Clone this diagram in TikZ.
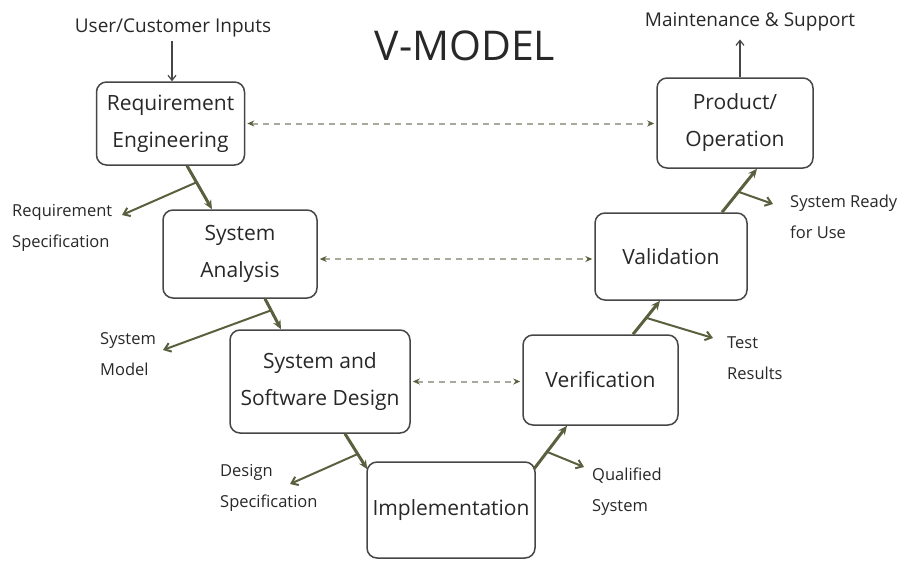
\documentclass[tikz,border=0pt]{standalone}
\usepackage{fontspec}
\setmainfont{Open Sans}
\usetikzlibrary{arrows.meta,calc}
\definecolor{stemc}{RGB}{88,96,62}
\definecolor{boxline}{RGB}{70,70,70}
\definecolor{dashc}{RGB}{165,170,155}
\definecolor{txtc}{RGB}{40,40,40}
\begin{document}
\begin{tikzpicture}[x=1pt,y=-1pt,
  box/.style={draw=boxline,line width=1.5pt,rounded corners=10pt,fill=white,align=center,
    font=\fontsize{21}{37}\selectfont,text=txtc,inner sep=0pt},
  lbl/.style={anchor=west,align=left,font=\fontsize{16.5}{31}\selectfont,text=txtc,inner sep=0pt},
  toplbl/.style={font=\fontsize{19}{22}\selectfont,text=txtc,inner sep=0pt},
  stemarrow/.style={draw=stemc,line width=3pt,-{Stealth[length=9pt,width=8pt]}},
  brancharrow/.style={draw=stemc,line width=2pt,-{Straight Barb[length=6pt,width=9pt]}},
  dasharrow/.style={draw=dashc,line width=2pt,dash pattern=on 6pt off 5pt,
    {Stealth[length=7pt,width=6pt,color=stemc]}-{Stealth[length=7pt,width=6pt,color=stemc]}},
  thinarrow/.style={draw=boxline,line width=1.2pt,-{Straight Barb[length=5pt,width=8pt]}}
]
\useasboundingbox (0,0) rectangle (904,560);

% title
\node[font=\fontsize{41}{43}\selectfont,text=txtc] (title) at (465,46) {V-MODEL};

% boxes
\node[box,minimum width=148pt,minimum height=83pt] (RE) at (170.5,123.5) {Requirement\\Engineering};
\node[box,minimum width=156pt,minimum height=90pt] (PO) at (735,123) {Product/\\Operation};
\node[box,minimum width=154pt,minimum height=88pt] (SA) at (240,254) {System\\Analysis};
\node[box,minimum width=152pt,minimum height=87pt] (VAL) at (671,256.5) {Validation};
\node[box,minimum width=180pt,minimum height=103pt] (SSD) at (320,381.5) {System and\\Software Design};
\node[box,minimum width=155pt,minimum height=90pt] (VER) at (600.5,380) {Verification};
\node[box,minimum width=168pt,minimum height=96pt] (IMP) at (451,510) {Implementation};

% top labels
\node[toplbl] (UCI) at (173,28) {User/Customer Inputs};
\node[toplbl] (MS) at (750,22) {Maintenance \& Support};
\draw[thinarrow] ([xshift=-1pt,yshift=-4pt]UCI.south) -- ([xshift=-1pt]UCI.south |- RE.north);
\draw[thinarrow] ([xshift=5pt]PO.north) -- ([xshift=5pt,yshift=-8pt]PO.north |- MS.south);

% side labels
\node[lbl] (LRS) at (12,228) {Requirement\\Specification};
\node[lbl] (LSM) at (100,354) {System\\Model};
\node[lbl] (LDS) at (220,488) {Design\\Specification};
\node[lbl] (LQS) at (592,492) {Qualified\\System};
\node[lbl] (LTR) at (727,358) {Test\\Results};
\node[lbl] (LSR) at (790,217) {System Ready\\for Use};

% stem coordinates
\coordinate (s1a) at ([xshift=16.5pt]RE.south);
\coordinate (s1b) at ([xshift=-28pt]SA.north);
\coordinate (s2a) at ([xshift=25pt]SA.south);
\coordinate (s2b) at ([xshift=-39pt]SSD.north);
\coordinate (s3a) at ([xshift=25pt]SSD.south);
\coordinate (s3b) at ([xshift=1pt,yshift=-8pt]IMP.north west);
\coordinate (s4a) at ([xshift=-2pt,yshift=-8pt]IMP.north east);
\coordinate (s4b) at ([xshift=-33.5pt]VER.south);
\coordinate (s5a) at ([xshift=32.5pt]VER.north);
\coordinate (s5b) at ([xshift=-11pt]VAL.south);
\coordinate (s6a) at ([xshift=51pt]VAL.north);
\coordinate (s6b) at ([xshift=22pt]PO.south);

% branch ends
\coordinate (b1) at (122,215);
\coordinate (b2) at (163,350);
\coordinate (b3) at (290,484);
\coordinate (b4) at (584,467);
\coordinate (b5) at (713,338);
\coordinate (b6) at (773,204);

\draw[stemarrow] (s1a) -- (s1b);
\draw[brancharrow] ($(s1a)!0.38!(s1b)$) -- (b1);
\draw[stemarrow] (s2a) -- (s2b);
\draw[brancharrow] ($(s2a)!0.38!(s2b)$) -- (b2);
\draw[stemarrow] (s3a) -- (s3b);
\draw[brancharrow] ($(s3a)!0.57!(s3b)$) -- (b3);
\draw[stemarrow] (s4a) -- (s4b);
\draw[brancharrow] ($(s4a)!0.4!(s4b)$) -- (b4);
\draw[stemarrow] (s5a) -- (s5b);
\draw[brancharrow] ($(s5a)!0.49!(s5b)$) -- (b5);
\draw[stemarrow] (s6a) -- (s6b);
\draw[brancharrow] ($(s6a)!0.47!(s6b)$) -- (b6);

% dashed links
\draw[dasharrow] ([xshift=2pt]RE.east) -- ([xshift=-2pt]RE.east -| PO.west);
\draw[dasharrow] ([xshift=2pt,yshift=-5pt]SA.east) -- ([xshift=-2pt,yshift=-5pt]SA.east -| VAL.west);
\draw[dasharrow] ([xshift=2pt]SSD.east) -- ([xshift=-2pt]SSD.east -| VER.west);
\end{tikzpicture}
\end{document}
